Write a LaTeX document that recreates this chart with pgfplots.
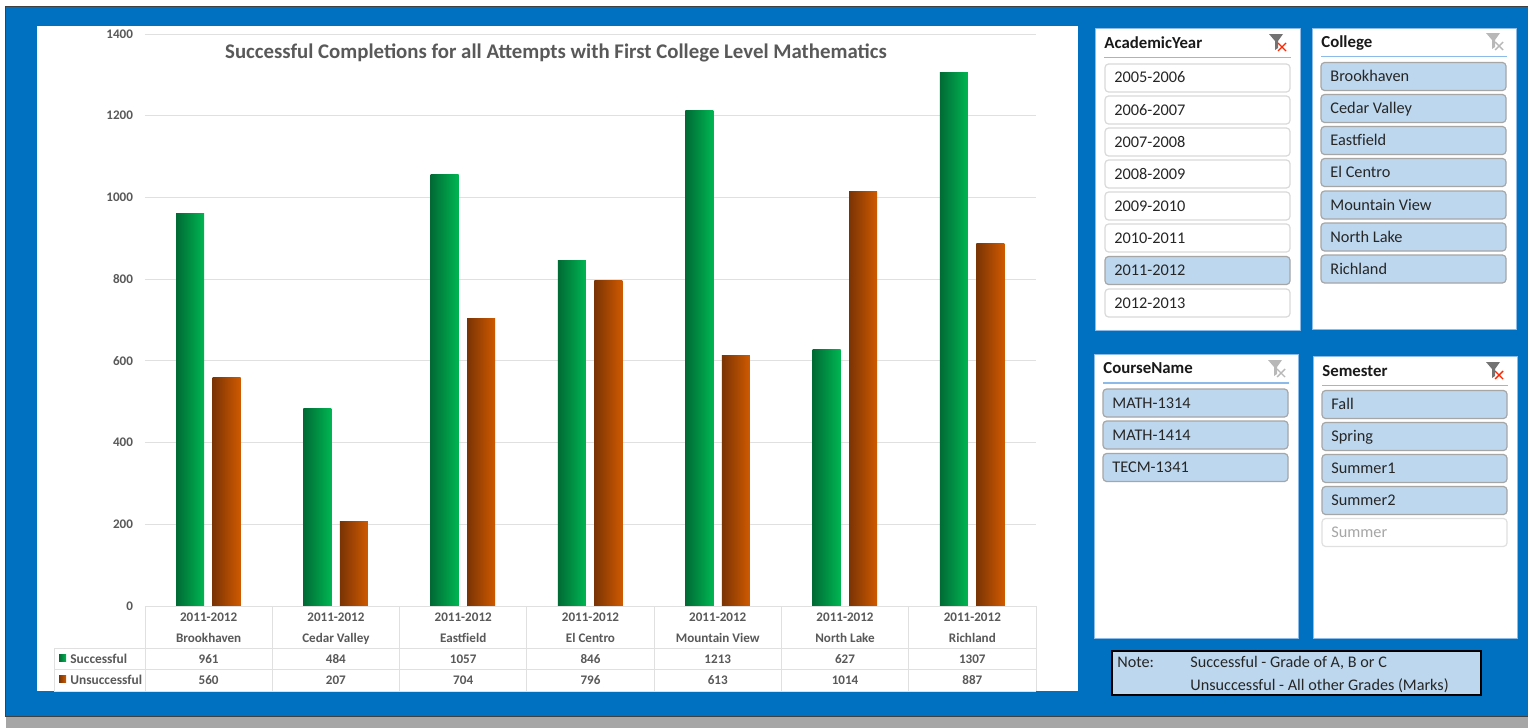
\documentclass[border=0pt]{standalone}
\usepackage{fontspec}
\setmainfont{Carlito}
\usepackage{pgfplots}
\pgfplotsset{compat=1.18}

\definecolor{frameblue}{HTML}{0070C0}
\definecolor{selblue}{HTML}{BDD7EE}
\definecolor{panelline}{HTML}{8DBBE8}
\definecolor{txtgray}{HTML}{595959}
\definecolor{gridgray}{HTML}{E0E0E0}
\definecolor{greenL}{HTML}{006B35}
\definecolor{greenR}{HTML}{00B652}
\definecolor{orangeL}{HTML}{7A3404}
\definecolor{orangeR}{HTML}{CF5A00}

% slicer button: x, y top, text, fill, border, text colour
\newcommand{\btn}[6]{%
  \draw[fill=#4,draw=#5,line width=0.6pt,rounded corners=1.8pt] (#1,#2) rectangle ++(185,28);
  \node[anchor=base west,inner sep=0pt,text=#6,font=\fontsize{8.15}{10}\selectfont] at (#1+9,#2+19) {#3};}
\newcommand{\onbtn}[3]{\btn{#1}{#2}{#3}{selblue}{black!35}{black!85}}
\newcommand{\offbtn}[3]{\btn{#1}{#2}{#3}{white}{black!15}{black!85}}
% slicer panel: x0, y0, x1, y1, title, line y
\newcommand{\panel}[6]{%
  \draw[fill=white,draw=panelline,line width=0.5pt] (#1,#2) rectangle (#3,#4);
  \draw[panelline,line width=0.7pt] (#1+9,#6) -- (#3-9,#6);
  \node[anchor=base west,inner sep=0pt,text=black!90,font=\bfseries\fontsize{8.4}{10}\selectfont] at (#1+9,#6-9.5) {#5};}
% filter icon: x, y, funnel colour, cross colour
\newcommand{\funnel}[4]{%
  \fill[#3,shift={(#1,#2)}] (0,0) -- (14,0) -- (9,7) -- (9,14) -- (6,16) -- (6,7) -- cycle;
  \draw[#4,line width=0.7pt,shift={(#1,#2)}] (9,9) -- (17,17) (17,9) -- (9,17);}

\begin{document}
\begin{tikzpicture}
\begin{scope}[x=0.5pt,y=-0.5pt]
  \path[use as bounding box] (0,0) rectangle (1528,728);
  \fill[white] (0,0) rectangle (1528,728);
  \fill[black!75] (5,6) rectangle (1528,717);
  \fill[frameblue] (6,7) rectangle (1528,715.5);
  \fill[black!35] (6,717) rectangle (1528,728);
  \fill[white] (37,26) rectangle (1078,691);
\end{scope}

\begin{axis}[
    at={(72.5pt,-303pt)}, anchor=origin,
    scale only axis, width=445.5pt, height=286pt,
    xmin=0, xmax=7, ymin=0, ymax=1400,
    ybar, bar width=14pt,
    axis line style={draw=none},
    major tick length=0pt,
    ytick={0,200,...,1400},
    ymajorgrids, grid style={gridgray,line width=0.5pt},
    xtick={0.5,1.5,...,6.5},
    xticklabels={{2011-2012\\Brookhaven},{2011-2012\\Cedar Valley},{2011-2012\\Eastfield},{2011-2012\\El Centro},{2011-2012\\Mountain View},{2011-2012\\North Lake},{2011-2012\\Richland}},
    xticklabel style={align=center,text=txtgray,yshift=0pt,font=\bfseries\fontsize{6.55}{10.5}\selectfont},
    yticklabel style={text=txtgray,xshift=-2.5pt,font=\bfseries\fontsize{6.55}{8}\selectfont},
    /pgf/number format/assume math mode=true,
    /pgf/number format/1000 sep={},
    succ/.style={bar shift=-9.25pt,draw=none,left color=greenL,right color=greenR},
    unsucc/.style={bar shift=9pt,draw=none,left color=orangeL,right color=orangeR}]
% one plot per bar, so that each bar has its own gradient
\addplot[succ] coordinates {(0.5,961)};
\addplot[succ] coordinates {(1.5,484)};
\addplot[succ] coordinates {(2.5,1057)};
\addplot[succ] coordinates {(3.5,846)};
\addplot[succ] coordinates {(4.5,1213)};
\addplot[succ] coordinates {(5.5,627)};
\addplot[succ] coordinates {(6.5,1307)};
\addplot[unsucc] coordinates {(0.5,560)};
\addplot[unsucc] coordinates {(1.5,207)};
\addplot[unsucc] coordinates {(2.5,704)};
\addplot[unsucc] coordinates {(3.5,796)};
\addplot[unsucc] coordinates {(4.5,613)};
\addplot[unsucc] coordinates {(5.5,1014)};
\addplot[unsucc] coordinates {(6.5,887)};
\end{axis}

\begin{scope}[x=0.5pt,y=-0.5pt]
  % chart title
  \node[anchor=base,inner sep=0pt,text=txtgray,font=\bfseries\fontsize{10.42}{12}\selectfont] at (556,58) {Successful Completions for all Attempts with First College Level Mathematics};
  % data table under the chart
  \draw[gridgray,line width=0.5pt] (145,606) -- (1036,606)
     (54,648) -- (1036,648) (54,669) -- (1036,669) (54,691) -- (1036,691)
     (54,648) -- (54,691);
  \foreach \k in {0,...,7} \draw[gridgray,line width=0.5pt] ({145+\k*127.29},606) -- ({145+\k*127.29},691);
  \foreach \k/\s/\u in {0/961/560,1/484/207,2/1057/704,3/846/796,4/1213/613,5/627/1014,6/1307/887} {
    \node[anchor=base,inner sep=0pt,text=txtgray,font=\bfseries\fontsize{6.55}{8}\selectfont] at ({208.6+\k*127.29},663) {\s};
    \node[anchor=base,inner sep=0pt,text=txtgray,font=\bfseries\fontsize{6.55}{8}\selectfont] at ({208.6+\k*127.29},684) {\u};
  }
  \shade[left color=greenL,right color=greenR] (59,654) rectangle (66,661);
  \shade[left color=orangeL,right color=orangeR] (59,675) rectangle (66,682);
  \node[anchor=base west,inner sep=0pt,text=txtgray,font=\bfseries\fontsize{6.7}{8}\selectfont] at (70,663) {Successful};
  \node[anchor=base west,inner sep=0pt,text=txtgray,font=\bfseries\fontsize{6.7}{8}\selectfont] at (70,684) {Unsuccessful};

  % slicers
  \panel{1095}{28}{1300}{330}{AcademicYear}{57.5}
  \funnel{1269}{34}{black!55}{red!70!orange}
  \foreach \y/\t in {64/2005-2006,96/2006-2007,128/2007-2008,160/2008-2009,192/2009-2010,224/2010-2011,289/2012-2013} {\offbtn{1105}{\y}{\t}}
  \onbtn{1105}{256.5}{2011-2012}

  \panel{1312}{28}{1516}{329}{College}{56.5}
  \funnel{1486}{33}{black!28}{black!28}
  \foreach \y/\t in {62.5/Brookhaven,94.5/Cedar Valley,126.5/Eastfield,158.5/El Centro,191/Mountain View,223/North Lake,255/Richland} {\onbtn{1321}{\y}{\t}}

  \panel{1094}{354}{1298}{638}{CourseName}{383}
  \funnel{1268}{360}{black!28}{black!28}
  \foreach \y/\t in {389/MATH-1314,421/MATH-1414,453.5/TECM-1341} {\onbtn{1103}{\y}{\t}}

  \panel{1313}{356}{1517}{638}{Semester}{385.5}
  \funnel{1486}{362}{black!55}{red!70!orange}
  \foreach \y/\t in {390.5/Fall,422.5/Spring,454.5/Summer1,486.5/Summer2} {\onbtn{1322}{\y}{\t}}
  \btn{1322}{518.5}{Summer}{white}{black!12}{black!35}

  % note box
  \draw[fill=selblue,draw=black,line width=1pt] (1112,651) rectangle (1481,694.5);
  \node[anchor=base west,inner sep=0pt,text=black!85,font=\fontsize{8.1}{10}\selectfont] at (1117,667) {Note:};
  \node[anchor=base west,inner sep=0pt,text=black!85,font=\fontsize{8.1}{10}\selectfont] at (1190,667) {Successful - Grade of A, B or C};
  \node[anchor=base west,inner sep=0pt,text=black!85,font=\fontsize{8.1}{10}\selectfont] at (1190,690) {Unsuccessful - All other Grades (Marks)};
\end{scope}
\end{tikzpicture}
\end{document}
